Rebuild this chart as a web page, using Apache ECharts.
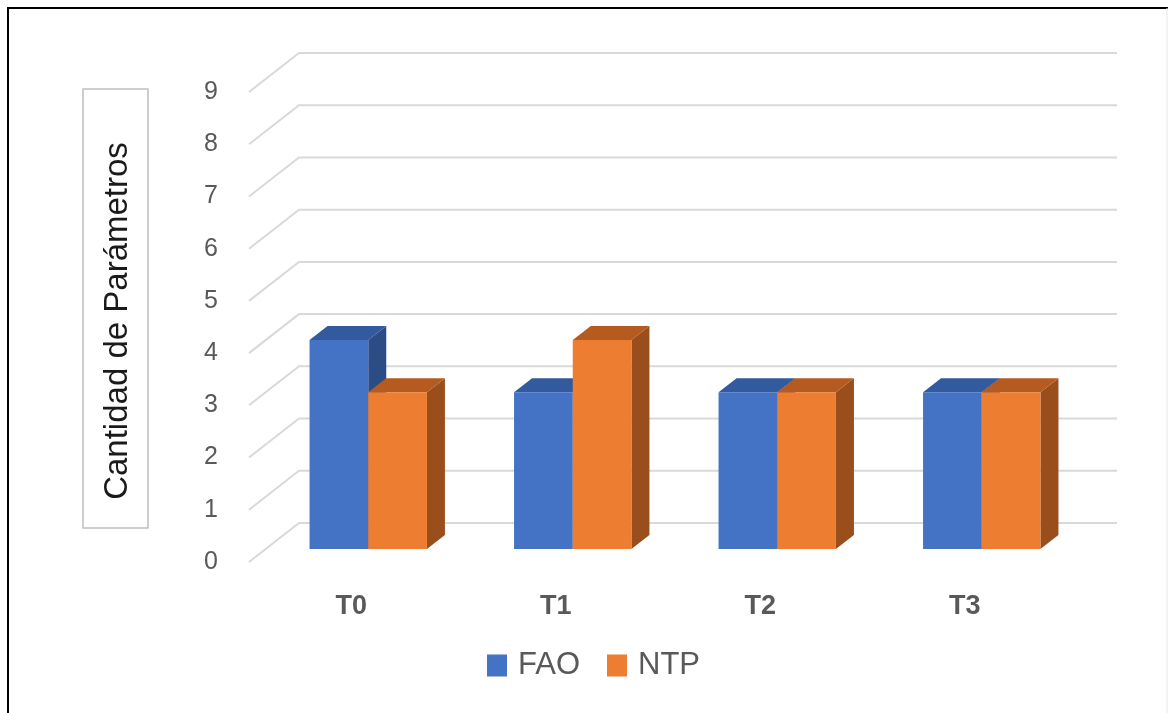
<!DOCTYPE html>
<html>
<head>
<meta charset="utf-8">
<script src="https://cdn.jsdelivr.net/npm/echarts@6/dist/echarts.min.js"></script>
<style>
  html, body { margin: 0; padding: 0; background: #fff; }
  #chart { width: 1168px; height: 713px; }
</style>
</head>
<body>
<div id="chart"></div>
<script>
// data
const categories = ['T0', 'T1', 'T2', 'T3'];
const faoValues = [4, 3, 3, 3];
const ntpValues = [3, 4, 3, 3];
const yTicks = [0, 1, 2, 3, 4, 5, 6, 7, 8, 9];

const FONT = '"Liberation Sans", Arial, sans-serif';
// depth offsets of the fake 3d
const FLOOR_DX = 50, FLOOR_DY = -39;   // front edge -> back wall
const BAR_DX = 17, BAR_DY = -13;       // front edge -> bar front face
const DEPTH_DX = 18, DEPTH_DY = -14;   // bar front face -> bar back face

const faces = {
    FAO: { front: '#4472C4', top: '#335A9E', side: '#2C4C86' },
    NTP: { front: '#ED7D31', top: '#B65B1F', side: '#9A4E1C' }
};

const chart = echarts.init(document.getElementById('chart'));

function barRender(name, slot) {
    return function (params, api) {
        const idx = api.value(0);
        const base = api.coord([idx, 0]);
        const top = api.coord([idx, api.value(1)]);
        const band = api.size([1, 0])[0];
        const w = band * 0.287;
        const x0 = base[0] + BAR_DX - w + slot * w;
        const yb = base[1] + BAR_DY;
        const yt = top[1] + BAR_DY;
        const c = faces[name];
        return {
            type: 'group',
            children: [
                {
                    type: 'polygon',
                    shape: { points: [[x0 + w, yt], [x0 + w + DEPTH_DX, yt + DEPTH_DY], [x0 + w + DEPTH_DX, yb + DEPTH_DY], [x0 + w, yb]] },
                    style: { fill: c.side }
                },
                {
                    type: 'polygon',
                    shape: { points: [[x0, yt], [x0 + w, yt], [x0 + w + DEPTH_DX, yt + DEPTH_DY], [x0 + DEPTH_DX, yt + DEPTH_DY]] },
                    style: { fill: c.top }
                },
                {
                    type: 'rect',
                    shape: { x: x0, y: yt, width: w, height: yb - yt },
                    style: { fill: c.front }
                }
            ]
        };
    };
}

chart.setOption({
    backgroundColor: '#fff',
    animation: false,
    grid: { left: 249, right: 101, top: 92, bottom: 151 },
    xAxis: {
        type: 'category',
        data: categories,
        axisLine: { show: false },
        axisTick: { show: false },
        axisLabel: {
            margin: 31,
            fontFamily: FONT,
            fontWeight: 'bold',
            fontSize: 27,
            color: '#595959'
        }
    },
    yAxis: {
        type: 'value',
        min: 0,
        max: 9,
        interval: 1,
        axisLine: { show: false },
        axisTick: { show: false },
        splitLine: { show: false },
        axisLabel: {
            margin: 31,
            fontFamily: FONT,
            fontSize: 25,
            color: '#595959'
        }
    },
    legend: {
        left: 487,
        top: 650,
        padding: 0,
        icon: 'rect',
        itemWidth: 20,
        itemHeight: 22,
        itemGap: 27,
        data: ['FAO', 'NTP'],
        textStyle: {
            fontFamily: FONT,
            fontSize: 31,
            color: '#595959',
            padding: [0, 0, 0, 6]
        }
    },
    graphic: [
        { type: 'line', shape: { x1: 8, y1: 8, x2: 8, y2: 713 }, style: { stroke: '#000', lineWidth: 2 } },
        { type: 'line', shape: { x1: 7, y1: 8, x2: 1168, y2: 8 }, style: { stroke: '#000', lineWidth: 2 } },
        { type: 'line', shape: { x1: 1167, y1: 8, x2: 1167, y2: 713 }, style: { stroke: '#e6e6e6', lineWidth: 1 } },
        {
            type: 'rect',
            shape: { x: 83, y: 89, width: 65, height: 439 },
            style: { fill: 'none', stroke: '#bfbfbf', lineWidth: 1.5 }
        },
        {
            type: 'text',
            x: 118,
            y: 321,
            rotation: Math.PI / 2,
            style: {
                text: 'Cantidad de Parámetros',
                fontFamily: FONT,
                fontSize: 33,
                fill: '#1a1a1a',
                align: 'center',
                verticalAlign: 'middle'
            }
        }
    ],
    series: [
        {
            name: 'grid',
            type: 'custom',
            silent: true,
            z: 1,
            data: yTicks.map(v => [0, v]),
            renderItem: function (params, api) {
                const p = api.coord([0, api.value(1)]);
                const cs = params.coordSys;
                const x = cs.x, y = p[1];
                return {
                    type: 'polyline',
                    shape: {
                        points: [[x, y], [x + FLOOR_DX, y + FLOOR_DY], [x + cs.width + FLOOR_DX, y + FLOOR_DY]]
                    },
                    style: { stroke: '#d9d9d9', lineWidth: 2, fill: null }
                };
            }
        },
        {
            name: 'FAO',
            type: 'custom',
            z: 2,
            itemStyle: { color: faces.FAO.front },
            data: faoValues.map((v, i) => [i, v]),
            renderItem: barRender('FAO', 0)
        },
        {
            name: 'NTP',
            type: 'custom',
            z: 3,
            itemStyle: { color: faces.NTP.front },
            data: ntpValues.map((v, i) => [i, v]),
            renderItem: barRender('NTP', 1)
        }
    ]
});
</script>
</body>
</html>
